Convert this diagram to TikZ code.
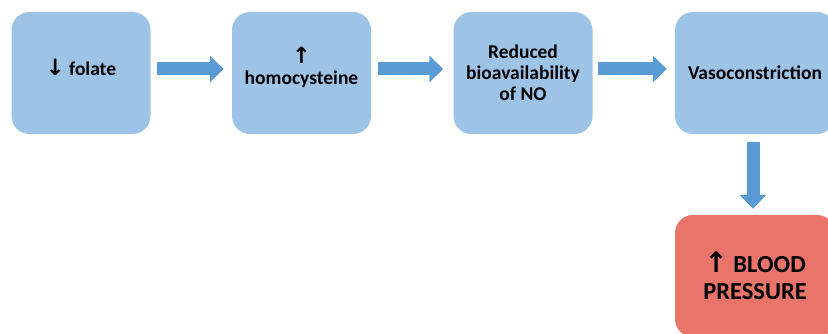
\documentclass[tikz,border=0pt]{standalone}
\usepackage{fontspec}
\setmainfont{Carlito}
\newfontfamily\symfont{DejaVu Sans}
\usetikzlibrary{positioning, arrows.meta, calc}
\definecolor{boxblue}{HTML}{9DC3E6}
\definecolor{boxred}{HTML}{E8746A}
\definecolor{arrowblue}{HTML}{5B9BD5}
\newcommand{\upar}{{\symfont\bfseries\scalebox{1.15}{\char"2191}}}
\newcommand{\downar}{{\symfont\bfseries\scalebox{1.15}{\char"2193}}}

\begin{document}
\begin{tikzpicture}[x=1pt, y=-1pt]
		\tikzstyle{box} = [draw=none, fill=boxblue, rounded corners=18pt, minimum width=139pt, minimum height=122pt, inner sep=0, align=center, font=\fontsize{19.5}{21}\selectfont\bfseries]
		\tikzstyle{widebox} = [box, minimum width=160pt]
		\tikzstyle{redbox} = [widebox, fill=boxred, font=\fontsize{24.5}{27}\selectfont\bfseries]
		\tikzstyle{blockarrow} = [draw=arrowblue, line width=13pt, -{Triangle[length=14pt, width=26pt]}]
		\useasboundingbox (0,0) rectangle (828,334);
		\clip (0,0) rectangle (828,334);
		\node [box, text depth=12pt] (v1) at (81,73) {\downar\ folate};
		\node [box, text depth=14pt] (v2) at (301.5,73) {\upar\\homocysteine};
		\node [box] (v3) at (523,73) {Reduced\\bioavailability\\of NO};
		\node [widebox] (v4) at (755,73) {Vasoconstriction};
		\node [redbox] (v5) at (755,276) {\upar\ BLOOD\\PRESSURE};
		\draw [blockarrow, shorten <=6pt, shorten >=8pt] ([yshift=4pt]v1.east) -- ([yshift=4pt]v2.west);
		\draw [blockarrow, shorten <=7pt, shorten >=10pt] ([yshift=4pt]v2.east) -- ([yshift=4pt]v3.west);
		\draw [blockarrow, shorten <=5pt, shorten >=8pt] ([yshift=4pt]v3.east) -- ([yshift=4pt]v4.west);
		\draw [blockarrow, shorten <=8pt, shorten >=6pt] ([xshift=-2pt]v4.south) -- ([xshift=-2pt]v5.north);
\end{tikzpicture}
\end{document}
